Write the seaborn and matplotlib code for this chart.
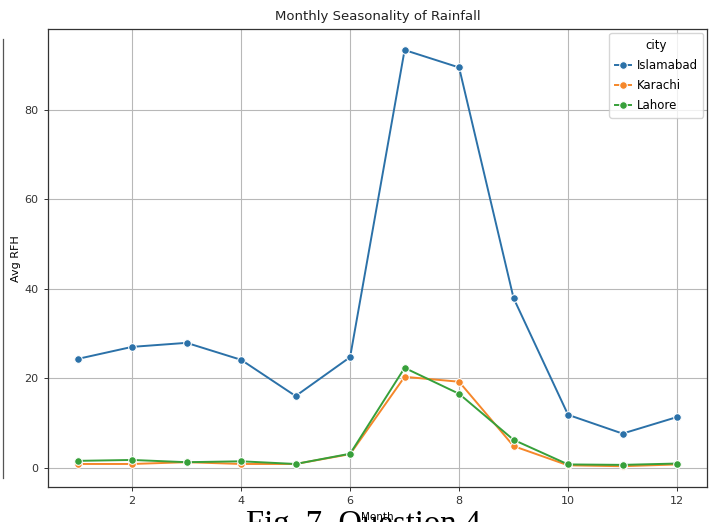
import numpy as np
import pandas as pd
import matplotlib
matplotlib.use("Agg")
import matplotlib.pyplot as plt
import seaborn as sns
from matplotlib.lines import Line2D

months = list(range(1, 13))
cities = ["Islamabad", "Karachi", "Lahore"]
islamabad = [24.3, 27.0, 27.9, 24.1, 16.0, 24.7, 93.4, 89.5, 37.9, 11.8, 7.6, 11.3]
karachi = [0.8, 0.8, 1.2, 0.8, 0.8, 3.0, 20.3, 19.2, 4.8, 0.5, 0.3, 0.7]
lahore = [1.5, 1.7, 1.2, 1.4, 0.8, 3.1, 22.3, 16.5, 6.2, 0.7, 0.6, 0.9]

df = pd.DataFrame({
    "Month": months * 3,
    "Avg RFH": islamabad + karachi + lahore,
    "city": [c for c in cities for _ in months],
})

plt.rcParams["font.family"] = ["DejaVu Sans"]
fig = plt.figure(figsize=(7.12, 5.22), dpi=100)
ax = fig.add_axes([0.067, 0.067, 0.926, 0.877])

sns.lineplot(data=df, x="Month", y="Avg RFH", hue="city", marker="o",
             markersize=5.5, linewidth=1.4, ax=ax,
             palette=["#2b71a8", "#f5872a", "#37a03a"])
ax.grid(True, color="#b8b8b8", linewidth=0.8)
ax.set_axisbelow(True)
ax.set_title("Monthly Seasonality of Rainfall", fontsize=9.5, color="#222222", pad=7)
ax.set_xlabel("Month", fontsize=7.5, labelpad=4)
ax.set_ylabel("Avg RFH", fontsize=8)
ax.yaxis.set_label_coords(-0.04, 0.5)
ax.tick_params(labelsize=8, length=3, width=0.7, colors="#333333")
ax.set_xticks([2, 4, 6, 8, 10, 12])
ax.set_yticks([0, 20, 40, 60, 80])
for s in ax.spines.values():
    s.set_color("#333333")
    s.set_linewidth(0.9)
leg = ax.legend(title="city", loc="upper right", fontsize=8.5, title_fontsize=8.5,
                frameon=True, borderpad=0.5, handlelength=1.3, handletextpad=0.5,
                labelspacing=0.6, borderaxespad=0.3)
leg.get_frame().set_edgecolor("#cccccc")

# screenshot border line at left
fig.add_artist(Line2D([0.004, 0.004], [0.085, 0.925], color="#555555", linewidth=0.9,
                      transform=fig.transFigure))

# caption partially cut at bottom
fig.text(0.51, -0.022, "Fig. 7. Question 4", ha="center", va="baseline",
         fontsize=23.5, family=["Liberation Serif"], color="black")

fig.savefig("out.png", dpi=100)
